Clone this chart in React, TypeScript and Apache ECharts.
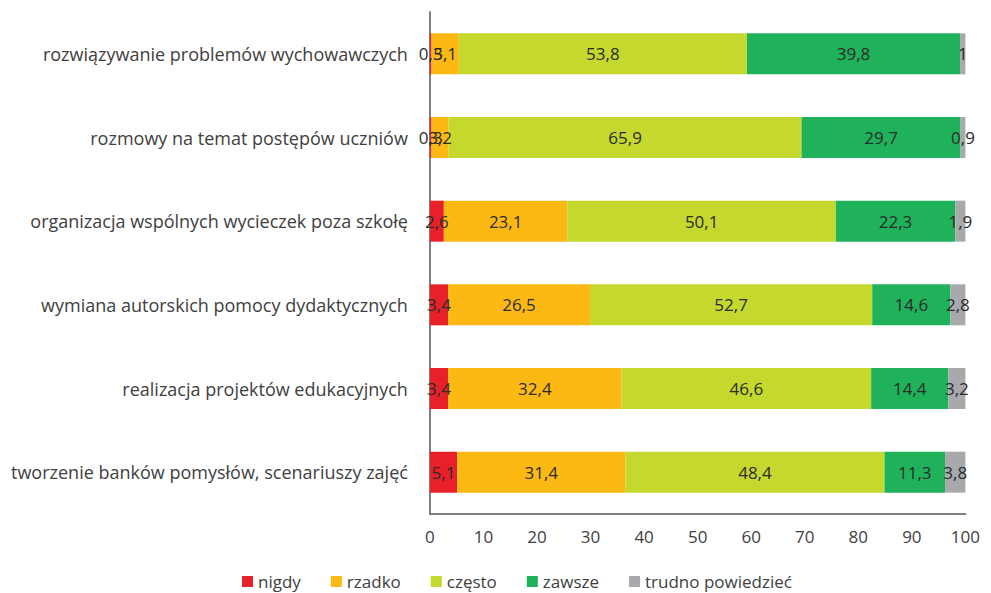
import React, { useEffect, useRef } from "react";
import * as echarts from "echarts";

const categories = [
  "rozwiązywanie problemów wychowawczych",
  "rozmowy na temat postępów uczniów",
  "organizacja wspólnych wycieczek poza szkołę",
  "wymiana autorskich pomocy dydaktycznych",
  "realizacja projektów edukacyjnych",
  "tworzenie banków pomysłów, scenariuszy zajęć",
];
const seriesNames = ["nigdy", "rzadko", "często", "zawsze", "trudno powiedzieć"];
const nigdy = [0.3, 0.3, 2.6, 3.4, 3.4, 5.1];
const rzadko = [5.1, 3.2, 23.1, 26.5, 32.4, 31.4];
const czesto = [53.8, 65.9, 50.1, 52.7, 46.6, 48.4];
const zawsze = [39.8, 29.7, 22.3, 14.6, 14.4, 11.3];
const trudno = [1, 0.9, 1.9, 2.8, 3.2, 3.8];
const xTicks = [0, 10, 20, 30, 40, 50, 60, 70, 80, 90, 100];
const colors = ["#e8202a", "#fdb913", "#c4d82e", "#1fb25a", "#a7a9ac"];

const FONT = "'Open Sans', 'Noto Sans', sans-serif";

export default function App() {
  const ref = useRef<HTMLDivElement>(null);
  useEffect(() => {
    if (!ref.current) return;
    const chart = echarts.init(ref.current, undefined, { renderer: "svg" });
    const values = [nigdy, rzadko, czesto, zawsze, trudno];
    chart.setOption({
      animation: false,
      color: colors,
      grid: { left: 418, right: 17, top: 4, bottom: 79, containLabel: false },
      legend: {
        top: 560,
        left: 229,
        itemWidth: 11,
        itemHeight: 11,
        itemGap: 30,
        icon: "rect",
        textStyle: { fontFamily: FONT, fontSize: 17, color: "#404040" },
        data: seriesNames,
      },
      xAxis: {
        type: "value",
        min: 0,
        max: 100,
        interval: 10,
        axisLine: { show: true, lineStyle: { color: "#7f7f7f", width: 2 } },
        axisTick: { show: false },
        splitLine: { show: false },
        axisLabel: {
          fontFamily: FONT,
          fontSize: 17,
          color: "#404040",
          margin: 14,
          formatter: (v: number) => (xTicks.includes(v) ? String(v) : ""),
        },
      },
      yAxis: {
        type: "category",
        inverse: true,
        data: categories,
        axisLine: { show: true, lineStyle: { color: "#7f7f7f", width: 2 } },
        axisTick: { show: false },
        axisLabel: { fontFamily: FONT, fontSize: 18, color: "#404040", margin: 22 },
      },
      series: seriesNames.map((name, i) => ({
        name,
        type: "bar",
        stack: "total",
        barWidth: 41,
        data: values[i],
        label: {
          show: true,
          position: "inside",
          fontFamily: FONT,
          fontSize: 17,
          color: "#2b2b2b",
          formatter: (p: any) => String(p.value).replace(".", ","),
        },
      })),
    });
    return () => chart.dispose();
  }, []);
  return <div ref={ref} style={{ width: 975, height: 585 }} />;
}
